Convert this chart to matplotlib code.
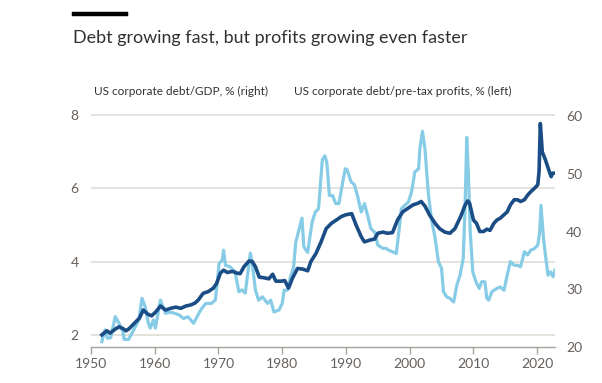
import matplotlib
matplotlib.use("Agg")
import matplotlib.pyplot as plt

# ---- data ----
profit_years = [1951.7, 1952.2, 1952.6, 1953.1, 1953.8, 1954.4, 1955.0, 1955.2, 1955.9, 1956.7,
                1957.5, 1958.0, 1958.5, 1959.0, 1959.3, 1959.8, 1960.1, 1960.9, 1961.7, 1962.3,
                1963.0, 1963.8, 1964.5, 1965.2, 1966.1, 1967.2, 1968.0, 1968.9, 1969.5, 1969.8,
                1970.1, 1970.6, 1970.8, 1971.1, 1971.8, 1972.6, 1973.2, 1973.7, 1974.2, 1975.0,
                1975.3, 1975.8, 1976.3, 1976.9, 1977.7, 1978.2, 1978.7, 1979.5, 1980.0, 1980.3,
                1980.8, 1981.3, 1981.8, 1982.1, 1982.6, 1983.1, 1983.4, 1984.0, 1984.2, 1984.7,
                1985.2, 1985.7, 1986.3, 1986.7, 1987.0, 1987.4, 1987.9, 1988.4, 1988.9, 1989.5,
                1989.9, 1990.2, 1990.8, 1991.3, 1991.8, 1992.4, 1992.9, 1993.4, 1993.9, 1994.5,
                1995.0, 1995.8, 1996.3, 1996.8, 1997.3, 1997.9, 1998.3, 1998.7, 1999.2, 1999.8,
                2000.3, 2000.8, 2001.4, 2001.6, 2002.0, 2002.4, 2002.9, 2003.4, 2004.0, 2004.5,
                2005.0, 2005.3, 2005.8, 2006.3, 2006.9, 2007.4, 2007.9, 2008.4, 2008.7, 2008.95,
                2009.2, 2009.5, 2009.9, 2010.4, 2010.9, 2011.3, 2011.8, 2012.1, 2012.4, 2012.9,
                2013.7, 2014.2, 2014.8, 2015.3, 2015.8, 2016.4, 2016.9, 2017.4, 2018.0, 2018.5,
                2019.0, 2019.6, 2020.1, 2020.4, 2020.6, 2021.0, 2021.3, 2021.7, 2022.1, 2022.5,
                2022.8]
profit_vals = [1.82, 2.14, 1.91, 1.93, 2.50, 2.32, 2.10, 1.88, 1.88, 2.14,
               2.41, 3.00, 2.77, 2.32, 2.19, 2.41, 2.19, 2.95, 2.59, 2.62,
               2.60, 2.55, 2.45, 2.50, 2.32, 2.68, 2.86, 2.86, 2.95, 3.41,
               3.95, 4.04, 4.31, 3.90, 3.86, 3.72, 3.18, 3.23, 3.14, 4.23,
               3.95, 3.22, 2.95, 3.04, 2.86, 2.95, 2.63, 2.68, 2.86, 3.22,
               3.22, 3.58, 3.86, 4.50, 4.85, 5.18, 4.40, 4.25, 4.50, 5.08,
               5.35, 5.44, 6.78, 6.88, 6.70, 5.80, 5.80, 5.58, 5.58, 6.17,
               6.53, 6.50, 6.17, 6.10, 5.80, 5.35, 5.58, 5.26, 4.90, 4.80,
               4.45, 4.36, 4.36, 4.30, 4.27, 4.22, 4.81, 5.44, 5.53, 5.62,
               5.90, 6.44, 6.53, 7.07, 7.55, 7.07, 5.90, 5.17, 4.63, 4.00,
               3.81, 3.18, 3.04, 3.00, 2.90, 3.36, 3.63, 4.08, 5.54, 7.38,
               6.44, 4.81, 3.72, 3.45, 3.27, 3.45, 3.45, 3.00, 2.95, 3.18,
               3.27, 3.31, 3.22, 3.63, 4.00, 3.90, 3.90, 3.86, 4.27, 4.18,
               4.31, 4.36, 4.45, 4.81, 5.53, 4.63, 4.18, 3.63, 3.72, 3.59,
               3.77]

gdp_years = [1951.7, 1952.5, 1953.0, 1953.8, 1954.4, 1955.0, 1955.5, 1956.0, 1956.8, 1957.6,
             1958.2, 1958.9, 1959.5, 1960.1, 1960.9, 1961.7, 1962.5, 1963.3, 1964.1, 1964.9,
             1965.7, 1966.3, 1966.8, 1967.6, 1968.4, 1969.2, 1969.7, 1970.3, 1970.8, 1971.4,
             1972.2, 1972.9, 1973.4, 1974.0, 1974.8, 1975.3, 1975.8, 1976.4, 1977.1, 1977.9,
             1978.5, 1979.0, 1979.8, 1980.4, 1981.0, 1981.6, 1982.4, 1983.2, 1984.0, 1984.5,
             1985.3, 1986.1, 1986.9, 1987.7, 1988.5, 1989.3, 1990.0, 1990.9, 1991.6, 1992.4,
             1992.9, 1993.7, 1994.5, 1995.0, 1995.8, 1996.5, 1997.3, 1998.1, 1998.9, 1999.7,
             2000.5, 2001.3, 2001.8, 2002.4, 2003.1, 2004.0, 2004.7, 2005.5, 2006.3, 2007.1,
             2008.0, 2008.7, 2009.1, 2009.4, 2010.0, 2010.5, 2011.0, 2011.6, 2012.1, 2012.6,
             2013.2, 2013.7, 2014.2, 2014.8, 2015.3, 2015.8, 2016.4, 2016.9, 2017.4, 2018.0,
             2018.5, 2019.0, 2019.6, 2020.1, 2020.3, 2020.5, 2020.8, 2021.3, 2021.9, 2022.2,
             2022.4, 2022.8]
gdp_vals = [22.1, 22.8, 22.4, 23.1, 23.5, 23.2, 22.8, 23.2, 24.1, 25.0,
            26.4, 25.7, 25.4, 26.0, 27.1, 26.4, 26.7, 26.9, 26.7, 27.1,
            27.3, 27.6, 28.1, 29.3, 29.6, 30.2, 31.0, 32.8, 33.3, 32.9,
            33.1, 32.8, 32.7, 33.9, 34.9, 34.8, 33.9, 32.1, 32.0, 31.8,
            32.6, 31.4, 31.4, 31.5, 30.2, 31.9, 33.6, 33.5, 33.2, 34.8,
            36.2, 38.2, 40.5, 41.4, 42.0, 42.6, 42.9, 43.1, 41.1, 39.1,
            38.2, 38.5, 38.7, 39.7, 39.9, 39.7, 39.8, 42.0, 43.4, 44.0,
            44.6, 44.9, 45.2, 44.4, 42.9, 41.4, 40.5, 39.9, 39.7, 40.5,
            42.6, 44.6, 45.3, 44.9, 42.0, 41.4, 40.0, 40.0, 40.4, 40.2,
            41.4, 42.0, 42.3, 42.9, 43.4, 44.6, 45.5, 45.5, 45.2, 45.5,
            46.3, 46.9, 47.5, 48.1, 50.4, 58.7, 53.8, 52.4, 50.4, 49.5,
            50.1, 50.1]

left_ticks = [2, 4, 6, 8]
right_ticks = [20, 30, 40, 50, 60]
x_ticks = [1950, 1960, 1970, 1980, 1990, 2000, 2010, 2020]

title = "Debt growing fast, but profits growing even faster"
label_gdp = "US corporate debt/GDP, % (right)"
label_profit = "US corporate debt/pre-tax profits, % (left)"

# ---- style ----
FONT = "Lato"
plt.rcParams["font.family"] = [FONT, "DejaVu Sans"]
DARK = "#1a4c85"
LIGHT = "#87cce6"
GRID = "#e0dbd6"
TXT = "#33302e"
TICK = "#66605c"

W, H = 602, 383
fig = plt.figure(figsize=(W / 100, H / 100), dpi=100)
fig.patch.set_facecolor("white")

ax_l, ax_r, ax_t, ax_b = 91, 555, 114, 347
ax = fig.add_axes([ax_l / W, 1 - ax_b / H, (ax_r - ax_l) / W, (ax_b - ax_t) / H])
ax2 = ax.twinx()

ax.set_xlim(1950, 2022.8)
ax.set_ylim(2 - 12 / 36.8, 8.02)
ax2.set_ylim(20, 60.35)

ax.set_yticks(left_ticks)
ax.set_yticklabels([str(t) for t in left_ticks])
ax2.set_yticks(right_ticks)
ax2.set_yticklabels([str(t) for t in right_ticks])
ax.set_xticks(x_ticks)
ax.set_xticklabels([str(t) for t in x_ticks])

ax.grid(axis="y", color=GRID, linewidth=1.2)
ax.set_axisbelow(True)
for a in (ax, ax2):
    for s in ("top", "left", "right", "bottom"):
        a.spines[s].set_visible(False)
ax.spines["bottom"].set_visible(True)
ax.spines["bottom"].set_color("#a8a29c")
ax.spines["bottom"].set_linewidth(1.0)

ax.tick_params(axis="x", length=5, width=1.0, color="#a8a29c", labelsize=10, labelcolor=TICK, pad=3)
ax.tick_params(axis="y", length=0, labelsize=10, labelcolor=TICK, pad=9)
ax2.tick_params(axis="y", length=0, labelsize=10, labelcolor=TICK, pad=8)

ax.plot(profit_years, profit_vals, color=LIGHT, linewidth=2.3, solid_joinstyle="round", zorder=2)
ax2.plot(gdp_years, gdp_vals, color=DARK, linewidth=2.6, solid_joinstyle="round", zorder=3)
ax2.patch.set_visible(False)

# header
fig.add_artist(plt.Line2D([74 / W, 126 / W], [1 - 13.5 / H, 1 - 13.5 / H], color="black", linewidth=3.2))
fig.text(73 / W, 1 - 37.5 / H, title, fontsize=12.9, color=TXT, va="center", ha="left")
fig.text(94 / W, 1 - 91 / H, label_gdp, fontsize=8.5, color=TXT, va="center", ha="left")
fig.text(294 / W, 1 - 91 / H, label_profit, fontsize=8.5, color=TXT, va="center", ha="left")

fig.savefig("out.png", dpi=100, facecolor="white")
